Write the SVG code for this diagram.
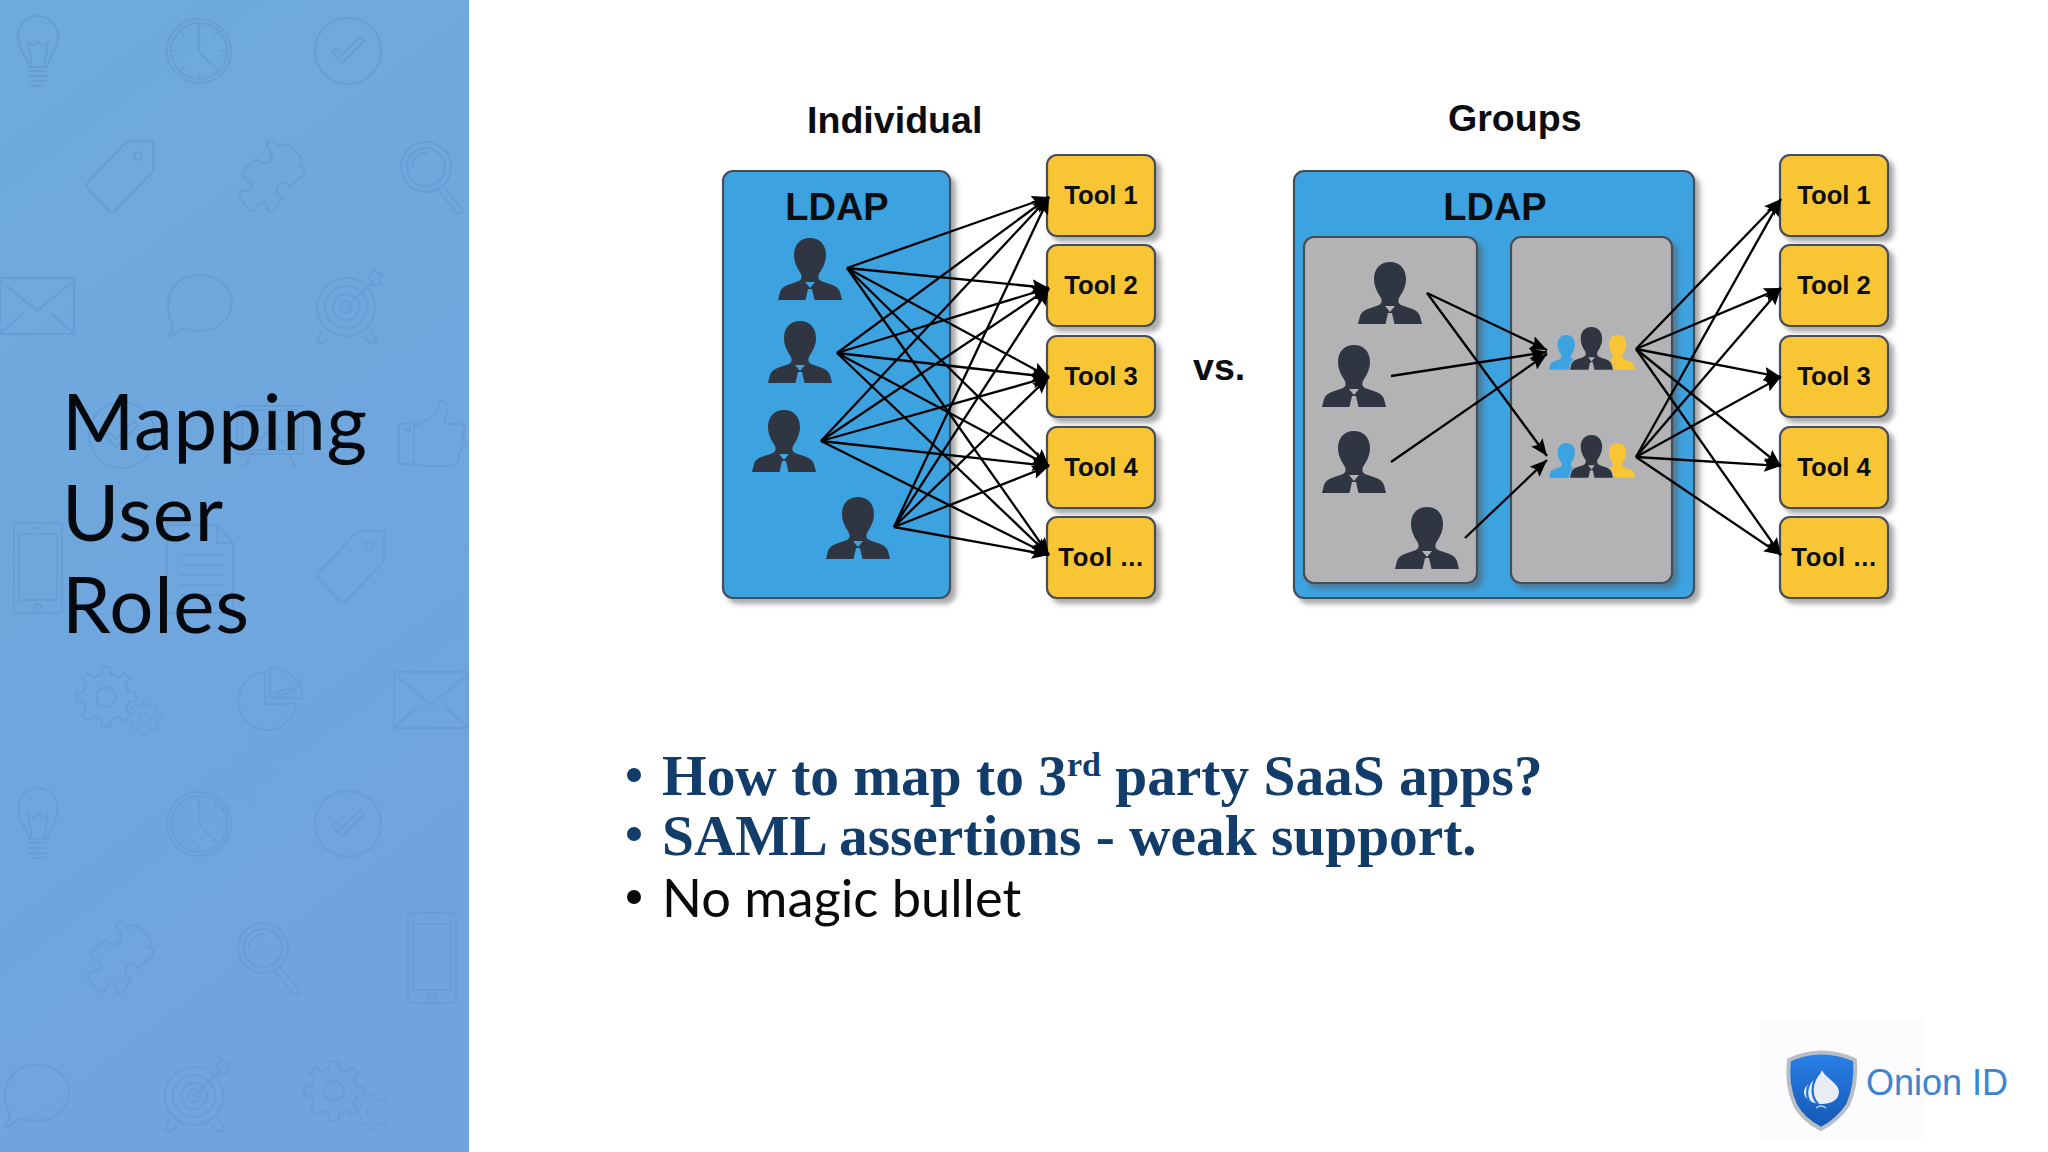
<svg xmlns="http://www.w3.org/2000/svg" xmlns:xlink="http://www.w3.org/1999/xlink" width="2048" height="1152" viewBox="0 0 2048 1152">
<style>
.sans{font-family:"Liberation Sans",Arial,sans-serif;font-weight:700;fill:#0b0d10}
.h{font-size:37.6px}
.tool{font-size:25.6px;text-anchor:middle}
.ldap{font-size:38px;text-anchor:middle}
.box{stroke:#454d59;stroke-width:2.2;filter:url(#sh)}
.blue{fill:#3da2e0}.yellow{fill:#f8c535}.gray{fill:#b3b2b4}
.ic{fill:none;stroke:#679ed5;stroke-width:2;stroke-linejoin:round;stroke-linecap:round}
.con line{stroke:#000;stroke-width:2.3;marker-end:url(#ah)}
.title{font-family:Lato,"Noto Sans",sans-serif;font-weight:400;font-size:78px;letter-spacing:.8px;fill:#05080c}
.b1{font-family:"Liberation Serif","Times New Roman",serif;font-weight:700;font-size:57.4px;fill:#123d6b}
.b2{font-family:Lato,"Noto Sans",sans-serif;font-size:52.4px;fill:#0a0a0a}
</style>
<defs>
<linearGradient id="pg" x1="0" y1="0" x2="0.3" y2="1"><stop offset="0" stop-color="#6eaadc"/><stop offset="1" stop-color="#70a4de"/></linearGradient>
<linearGradient id="sg" x1="0" y1="0" x2="0" y2="1"><stop offset="0" stop-color="#2a80e6"/><stop offset="1" stop-color="#1458b4"/></linearGradient>
<filter id="sh" x="-10%" y="-10%" width="125%" height="125%"><feDropShadow dx="5" dy="5" stdDeviation="2.5" flood-color="#555" flood-opacity=".5"/></filter>
<marker id="ah" markerUnits="userSpaceOnUse" viewBox="0 0 17 14" markerWidth="17" markerHeight="14" refX="17" refY="7" orient="auto"><path d="M0 0L17 7L0 14L3 7z" fill="#000"/></marker>
<path id="person" fill-rule="evenodd" d="M32 0C42 0 48 7 48 17C48 25 44 31 41 36C40 39 40 41 43 43C50 46 60 47 62 54L64 62H38L36.5 62L34 51H30L27.5 62H26H0L2 54C4 47 14 46 21 43C24 41 24 39 23 36C20 31 16 25 16 17C16 7 22 0 32 0ZM27 44H37L32 50Z"/>
<path id="personS" d="M32 0C42 0 48 7 48 17C48 25 44 31 41 36C40 39 40 41 43 43C50 46 60 47 62 54L64 62H0L2 54C4 47 14 46 21 43C24 41 24 39 23 36C20 31 16 25 16 17C16 7 22 0 32 0Z"/>
<g id="bulb"><path d="M13 52C12 42 2 36 2 21A20 20 0 0 1 42 21C42 36 32 42 31 52Z"/><path d="M16 52L12 27L17 31L22 26L27 31L32 27L28 52"/><path d="M13 56H31M13 61H31M14 66H30M16 71H28"/></g>
<g id="clock"><circle r="32"/><circle r="28"/><path d="M0-26V0L12 13M0 26V22M26 0H22M-26 0H-22M18-18L15-15M-18-18L-15-15M18 18L15 15M-18 18L-15 15"/></g>
<g id="check"><circle r="33"/><path d="M-16 2L-6 12L16-10L12-14L-6 4L-12-2Z"/></g>
<g id="tag"><path d="M41 0H67V30L29 70Q26 73 23 70L2 48Q-1 44 2 41Z"/><circle cx="52" cy="15" r="4"/></g>
<g id="puzzle"><path d="M30 8C24 2 32-3 37 2L40 6C44 2 48 2 52 6L60 14C64 18 64 22 60 26C66 24 68 32 62 36L50 46C48 40 40 40 38 46C36 52 40 56 44 56L36 68C32 74 28 70 28 66C28 60 20 60 18 66C16 72 10 70 8 66L2 58C-2 52 2 48 8 50C14 50 14 40 8 38C2 36 2 30 8 26L18 18C22 24 30 24 32 18C34 14 32 10 30 8Z"/></g>
<g id="mag"><circle cx="26" cy="26" r="25"/><circle cx="26" cy="26" r="19"/><path d="M12 26A14 14 0 0 1 26 12M44 46L60 66Q64 70 61 72Q58 74 55 70L39 50"/></g>
<g id="env"><path d="M0 0H74V56H0ZM0 2L37 33L74 2M0 56L22 36M74 56L52 36"/></g>
<g id="speech"><path d="M32 0C52 0 65 13 65 28C65 44 50 56 32 56C26 56 20 55 15 53C10 58 5 62 0 62C4 58 6 54 6 48C-4 38 -2 0 32 0Z"/></g>
<g id="target"><circle cx="29" cy="38" r="29"/><circle cx="29" cy="38" r="21"/><circle cx="29" cy="38" r="13"/><circle cx="29" cy="38" r="6"/><path d="M29 38L56 12M52 8L57 0L60 4L66 5L62 10L64 14L56 17ZM4 62L0 72L6 74L12 68M54 62L60 72L54 74L46 68"/></g>
<g id="board"><path d="M0 0H66V48H0ZM5 4H61V44H5ZM14 48L8 61M52 48L58 61M33 24L18 38M33 24L48 38"/></g>
<g id="thumb"><path d="M0 22H15V62H0ZM15 24C28 18 38 16 40 0C46-2 50 2 49 8L45 22H62C66 24 66 30 63 32C66 36 66 40 62 42C64 46 63 50 60 52C61 58 58 64 52 64H25C20 64 18 62 15 60"/><circle cx="9" cy="28" r="2"/></g>
<g id="phone"><rect width="48" height="90" rx="4"/><rect x="5" y="11" width="38" height="66"/><circle cx="24" cy="84" r="3.5"/><path d="M20 5H28"/></g>
<g id="doc"><path d="M0 0H50L66 18V88H0ZM50 0V18H66M14 30H56M14 40H56M14 50H56M14 60H56M14 70H56"/></g>
<g id="pie"><path d="M-3-29A29 29 0 1 0 28 3H-3Z"/><path d="M2-33V-3H34C35-20 22-33 2-33ZM6-8L30-14M6-4L28-10"/></g>
<path id="tooth" d="M21.2-8.8L22.5-4.8L29.7-4.2V4.2L22.5 4.8L21.2 8.8"/>
<g id="gear"><use href="#tooth"/><use href="#tooth" transform="rotate(45)"/><use href="#tooth" transform="rotate(90)"/><use href="#tooth" transform="rotate(135)"/><use href="#tooth" transform="rotate(180)"/><use href="#tooth" transform="rotate(225)"/><use href="#tooth" transform="rotate(270)"/><use href="#tooth" transform="rotate(315)"/><circle r="10"/></g>
<g id="gears"><use href="#gear" transform="translate(27 30)"/><use href="#gear" transform="translate(66 51) scale(.56)"/></g>
</defs>

<rect width="2048" height="1152" fill="#fff"/>
<rect id="panel" width="469" height="1152" fill="url(#pg)"/>
<g id="icons" class="ic">
<use href="#bulb" x="16" y="15"/>
<use href="#clock" x="199" y="51"/>
<use href="#check" x="348" y="51"/>
<use href="#tag" x="86" y="141"/>
<use href="#puzzle" x="239" y="141"/>
<use href="#mag" x="400" y="141"/>
<use href="#env" x="0" y="278"/>
<use href="#speech" x="167" y="275"/>
<use href="#target" x="317" y="269"/>
<use href="#check" x="122" y="435"/>
<use href="#board" x="237" y="406"/>
<use href="#thumb" x="399" y="402"/>
<use href="#phone" x="14" y="523"/>
<use href="#doc" x="167" y="525"/>
<use href="#tag" x="317" y="531"/>
<use href="#gears" x="79" y="667"/>
<use href="#pie" x="268" y="701"/>
<use href="#env" x="394" y="672"/>
<use href="#bulb" x="16" y="787"/>
<use href="#clock" x="199" y="824"/>
<use href="#check" x="348" y="824"/>
<use href="#puzzle" x="88" y="922"/>
<use href="#mag" x="237" y="922"/>
<use href="#phone" x="408" y="913"/>
<use href="#speech" x="4" y="1065"/>
<use href="#target" x="165" y="1058"/>
<use href="#gears" x="307" y="1061"/>
</g>
<g id="title" class="title">
<text x="62" y="450">Mapping</text>
<text x="62" y="541">User</text>
<text x="62" y="633">Roles</text>
</g>

<text id="h-individual" class="sans h" x="807" y="133">Individual</text>
<text id="h-groups" class="sans h" x="1448" y="131">Groups</text>
<text id="vs" class="sans h" x="1193" y="380">vs.</text>

<g id="ldap-individual">
<rect class="box blue" x="723" y="171" width="227" height="427" rx="10"/>
<text class="sans ldap" x="837" y="220">LDAP</text>
</g>
<g id="users-individual" fill="#2f3642">
<use id="u1" href="#person" x="778" y="238"/>
<use id="u2" href="#person" x="768" y="321"/>
<use id="u3" href="#person" x="752" y="410"/>
<use id="u4" href="#person" x="826" y="497"/>
</g>
<g id="tools-individual">
<g id="t1"><rect class="box yellow" x="1047" y="155" width="108" height="81" rx="10"/><text class="sans tool" x="1101" y="204">Tool 1</text></g>
<g id="t2"><rect class="box yellow" x="1047" y="245" width="108" height="81" rx="10"/><text class="sans tool" x="1101" y="294">Tool 2</text></g>
<g id="t3"><rect class="box yellow" x="1047" y="336" width="108" height="81" rx="10"/><text class="sans tool" x="1101" y="385">Tool 3</text></g>
<g id="t4"><rect class="box yellow" x="1047" y="427" width="108" height="81" rx="10"/><text class="sans tool" x="1101" y="476">Tool 4</text></g>
<g id="t5"><rect class="box yellow" x="1047" y="517" width="108" height="81" rx="10"/><text class="sans tool" x="1101" y="566" letter-spacing="0.6">Tool ...</text></g>
</g>

<g id="ldap-groups">
<rect class="box blue" x="1294" y="171" width="400" height="427" rx="10"/>
<text class="sans ldap" x="1495" y="220">LDAP</text>
<rect id="users-box" class="box gray" x="1304" y="237" width="173" height="346" rx="10"/>
<rect id="groups-box" class="box gray" x="1511" y="237" width="161" height="346" rx="10"/>
</g>
<g id="users-groups" fill="#2f3642">
<use id="gu1" href="#person" x="1358" y="262"/>
<use id="gu2" href="#person" x="1322" y="345"/>
<use id="gu3" href="#person" x="1322" y="431"/>
<use id="gu4" href="#person" x="1395" y="507"/>
</g>
<g id="group-a">
<use href="#personS" transform="translate(1549 335) scale(.54 .56)" fill="#3da2e0"/>
<use href="#personS" transform="translate(1600 335) scale(.55 .56)" fill="#f8c535"/>
<use href="#person" transform="translate(1570 327) scale(.67 .69)" fill="#2f3642" stroke="#b3b2b4" stroke-width="3" paint-order="stroke"/>
</g>
<g id="group-b">
<use href="#personS" transform="translate(1549 443) scale(.54 .56)" fill="#3da2e0"/>
<use href="#personS" transform="translate(1600 443) scale(.55 .56)" fill="#f8c535"/>
<use href="#person" transform="translate(1570 435) scale(.67 .69)" fill="#2f3642" stroke="#b3b2b4" stroke-width="3" paint-order="stroke"/>
</g>
<g id="tools-groups">
<g id="gt1"><rect class="box yellow" x="1780" y="155" width="108" height="81" rx="10"/><text class="sans tool" x="1834" y="204">Tool 1</text></g>
<g id="gt2"><rect class="box yellow" x="1780" y="245" width="108" height="81" rx="10"/><text class="sans tool" x="1834" y="294">Tool 2</text></g>
<g id="gt3"><rect class="box yellow" x="1780" y="336" width="108" height="81" rx="10"/><text class="sans tool" x="1834" y="385">Tool 3</text></g>
<g id="gt4"><rect class="box yellow" x="1780" y="427" width="108" height="81" rx="10"/><text class="sans tool" x="1834" y="476">Tool 4</text></g>
<g id="gt5"><rect class="box yellow" x="1780" y="517" width="108" height="81" rx="10"/><text class="sans tool" x="1834" y="566" letter-spacing="0.6">Tool ...</text></g>
</g>

<g id="connectors" class="con">
<line x1="847" y1="268" x2="1049" y2="197"/><line x1="847" y1="268" x2="1049" y2="288"/><line x1="847" y1="268" x2="1049" y2="377"/><line x1="847" y1="268" x2="1049" y2="466"/><line x1="847" y1="268" x2="1049" y2="555"/>
<line x1="837" y1="353" x2="1049" y2="197"/><line x1="837" y1="353" x2="1049" y2="288"/><line x1="837" y1="353" x2="1049" y2="377"/><line x1="837" y1="353" x2="1049" y2="466"/><line x1="837" y1="353" x2="1049" y2="555"/>
<line x1="821" y1="441" x2="1049" y2="197"/><line x1="821" y1="441" x2="1049" y2="288"/><line x1="821" y1="441" x2="1049" y2="377"/><line x1="821" y1="441" x2="1049" y2="466"/><line x1="821" y1="441" x2="1049" y2="555"/>
<line x1="894" y1="527" x2="1049" y2="197"/><line x1="894" y1="527" x2="1049" y2="288"/><line x1="894" y1="527" x2="1049" y2="377"/><line x1="894" y1="527" x2="1049" y2="466"/><line x1="894" y1="527" x2="1049" y2="555"/>
<line x1="1427" y1="293" x2="1547" y2="350"/><line x1="1427" y1="293" x2="1547" y2="456"/>
<line x1="1391" y1="376" x2="1547" y2="352"/><line x1="1391" y1="462" x2="1547" y2="354"/><line x1="1465" y1="538" x2="1547" y2="460"/>
<line x1="1636" y1="349" x2="1781" y2="199"/><line x1="1636" y1="349" x2="1781" y2="288"/><line x1="1636" y1="349" x2="1781" y2="377"/><line x1="1636" y1="349" x2="1781" y2="466"/><line x1="1636" y1="349" x2="1781" y2="555"/>
<line x1="1636" y1="457" x2="1781" y2="199"/><line x1="1636" y1="457" x2="1781" y2="288"/><line x1="1636" y1="457" x2="1781" y2="377"/><line x1="1636" y1="457" x2="1781" y2="466"/><line x1="1636" y1="457" x2="1781" y2="555"/>
</g>

<g id="bullets">
<circle cx="634" cy="775" r="7" fill="#123d6b"/>
<text class="b1" x="662" y="795">How to map to 3<tspan font-size="34" dy="-19">rd</tspan><tspan dy="19"> party SaaS apps?</tspan></text>
<circle cx="634" cy="834" r="7" fill="#123d6b"/>
<text class="b1" x="662" y="855">SAML assertions - weak support.</text>
<circle cx="634" cy="897" r="7" fill="#0a0a0a"/>
<text class="b2" x="662" y="917">No magic bullet</text>
</g>

<g id="logo">
<rect x="1760" y="1018" width="165" height="122" fill="#fcfcfe"/>
<path d="M1789 1060Q1821 1045 1855 1060Q1857 1085 1848 1105Q1838 1120 1821 1129Q1803 1120 1795 1105Q1786 1085 1789 1060Z" fill="url(#sg)" stroke="#b9bdc4" stroke-width="4" stroke-linejoin="round"/>
<path d="M1822 1070C1819 1078 1805 1083 1804 1092C1804 1100 1813 1104 1822 1104C1831 1104 1839 1100 1839 1092C1839 1083 1825 1078 1822 1070Z" fill="#e8edf4"/>
<path d="M1820 1072C1811 1082 1810 1096 1818 1104M1814 1078C1806 1085 1805 1097 1811 1103" fill="none" stroke="#1f6fd6" stroke-width="2.2"/>
<path d="M1816 1108Q1821 1104 1826 1108" fill="none" stroke="#b6cdec" stroke-width="1.5"/>
<text x="1866" y="1095" font-family="&quot;Liberation Sans&quot;,Arial,sans-serif" font-size="36" fill="#3a86d0">Onion ID</text>
</g>
</svg>
